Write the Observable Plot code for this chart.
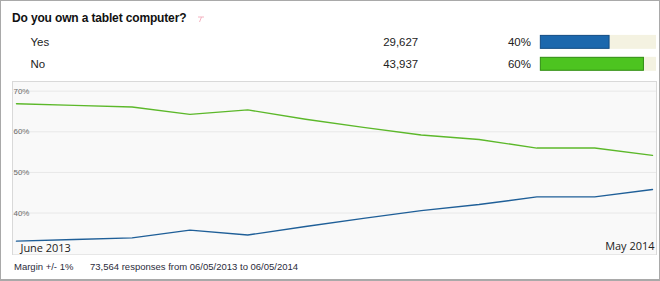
<!DOCTYPE html>
<html>
<head>
<meta charset="utf-8">
<script src="https://cdn.jsdelivr.net/npm/d3@7"></script>
<script src="https://cdn.jsdelivr.net/npm/@observablehq/plot@0.6"></script>
<style>
  html, body { margin: 0; padding: 0; background: #fff; }
  #card { position: relative; width: 660px; height: 281px; box-sizing: border-box;
          border: 1px solid #a9a9a9; border-bottom-width: 2px; background: #fff; overflow: hidden;
          font-family: Arial, "Liberation Sans", sans-serif; }
  #title { position: absolute; left: 11px; top: 10px; font-weight: bold; font-size: 12px; letter-spacing: -0.15px; color: #111; white-space: nowrap; }
  #pin { position: absolute; left: 196px; top: 15px; }
  #head { position: absolute; left: -1px; top: -1px; }
  #chart { position: absolute; left: -1px; top: 79px; }
  #foot1 { position: absolute; left: 13px; top: 260px; font-size: 9.5px; color: #2b2b3b; white-space: nowrap; }
  #foot2 { position: absolute; left: 89px; top: 260px; font-size: 9.5px; color: #2b2b3b; white-space: nowrap; }
</style>
</head>
<body>
<div id="card">
  <div id="title">Do you own a tablet computer?</div>
  <svg id="pin" width="8" height="7"><path d="M1 1 L7 1 M4.5 1 L2.5 6" stroke="#f4b3c1" stroke-width="1" fill="none"/></svg>
  <div id="head"></div>
  <div id="chart"></div>
  <div id="foot1">Margin +/- 1%</div>
  <div id="foot2">73,564 responses from 06/05/2013 to 06/05/2014</div>
</div>
<script>
// ---- data ----
const answers = ["Yes", "No"];
const counts = [29627, 43937];
const shares = [40, 60];
const months = ["Jun 2013","Jul 2013","Aug 2013","Sep 2013","Oct 2013","Nov 2013",
                "Dec 2013","Jan 2014","Feb 2014","Mar 2014","Apr 2014","May 2014"];
const yesSeries = [33.1, 33.5, 33.9, 35.8, 34.6, 36.7, 38.7, 40.6, 42.1, 44.0, 44.0, 45.8];
const noSeries  = [66.9, 66.5, 66.1, 64.3, 65.4, 63.1, 61.1, 59.2, 58.1, 56.0, 56.0, 54.2];
const yTicks = [40, 50, 60, 70];
const startLabel = "June 2013";
const endLabel = "May 2014";

const blue = "#1c68ad", green = "#4dc420";
const colors = {Yes: blue, No: green};
const lineColors = {Yes: "#1f5f98", No: "#5cb82a"};
const borders = {Yes: "#124d86", No: "#2f8d12"};

// ---- header rows with bars ----
const rows = answers.map((a, i) => ({answer: a, count: counts[i], share: shares[i]}));
const fmt = d3.format(",");
const head = Plot.plot({
  width: 661, height: 80,
  margin: 0,
  style: {fontFamily: "Arial, 'Liberation Sans', sans-serif", fontSize: "11px", color: "#222", background: "transparent"},
  x: {domain: [0, 67.3], range: [542, 658], axis: null},
  y: {domain: answers, range: [31, 75], padding: 0, axis: null},
  marks: [
    Plot.barX(rows, {x1: 0, x2: 67.3, y: "answer", fill: "#f4f2e1", insetTop: 4, insetBottom: 4}),
    Plot.barX(rows, {x1: 0, x2: "share", y: "answer", fill: d => colors[d.answer], stroke: d => borders[d.answer], strokeWidth: 1, insetTop: 4.5, insetBottom: 4.5}),
    Plot.text(rows, {y: "answer", text: "answer", frameAnchor: "left", dx: 30, textAnchor: "start", fill: "#222", fontSize: 11.5}),
    Plot.text(rows, {y: "answer", text: d => fmt(d.count), frameAnchor: "left", dx: 419, textAnchor: "end", fill: "#222", fontSize: 11.5}),
    Plot.text(rows, {y: "answer", text: d => d.share + "%", frameAnchor: "left", dx: 532, textAnchor: "end", fill: "#222", fontSize: 11.5})
  ]
});
document.getElementById("head").appendChild(head);

// ---- line chart ----
const series = [];
months.forEach((m, i) => {
  series.push({month: m, answer: "Yes", value: yesSeries[i]});
  series.push({month: m, answer: "No", value: noSeries[i]});
});
const chart = Plot.plot({
  width: 661, height: 176,
  marginLeft: 12, marginRight: 3, marginTop: 1, marginBottom: 1,
  style: {fontFamily: "Arial, 'Liberation Sans', sans-serif", background: "transparent"},
  x: {type: "point", domain: months, padding: 0, axis: null},
  y: {domain: [29.7, 72.38], axis: null},
  marks: [
    Plot.frame({fill: "#f9f9f9", stroke: "#d9d9d9"}),
    Plot.gridY(yTicks, {stroke: "#e8e8e8", strokeOpacity: 1}),
    Plot.text(yTicks, {y: d => d, text: d => d + "%", frameAnchor: "left", dx: 1, textAnchor: "start", fill: "#6b6b6b", fontSize: 8}),
    Plot.line(series, {x: "month", y: "value", z: "answer", stroke: d => lineColors[d.answer], strokeWidth: 1.4}),
    Plot.text([startLabel], {text: d => d, frameAnchor: "bottom-left", dx: 8, dy: -3, textAnchor: "start", fill: "#222", fontSize: 11, fontFamily: "'Open Sans', sans-serif"}),
    Plot.text([endLabel], {text: d => d, frameAnchor: "bottom-right", dx: -2, dy: -5, textAnchor: "end", fill: "#222", fontSize: 11, fontFamily: "'Open Sans', sans-serif"})
  ]
});
document.getElementById("chart").appendChild(chart);
</script>
</body>
</html>
